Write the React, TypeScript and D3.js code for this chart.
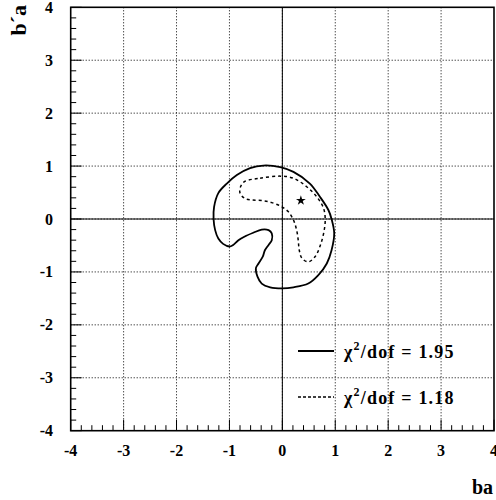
import React from "react";
import * as d3 from "d3";

const xTicks = [-4, -3, -2, -1, 0, 1, 2, 3, 4];
const yTicks = [-4, -3, -2, -1, 0, 1, 2, 3, 4];

const solidX = [-0.36, -0.04, 0.21, 0.52, 0.71, 0.87, 0.93, 0.98, 0.93, 0.84, 0.68, 0.49, 0.21, 0, -0.23, -0.39, -0.47, -0.5, -0.45, -0.37, -0.33, -0.26, -0.2, -0.2, -0.26, -0.39, -0.55, -0.71, -0.83, -0.93, -1.0, -1.12, -1.21, -1.27, -1.3, -1.29, -1.21, -1.05, -0.86, -0.61];
const solidY = [1.01, 0.98, 0.89, 0.67, 0.42, 0.17, 0, -0.27, -0.59, -0.84, -1.06, -1.22, -1.29, -1.31, -1.29, -1.22, -1.09, -0.93, -0.84, -0.71, -0.59, -0.49, -0.4, -0.27, -0.21, -0.2, -0.26, -0.33, -0.4, -0.49, -0.52, -0.47, -0.37, -0.21, 0, 0.23, 0.49, 0.67, 0.83, 0.96];

const dashX = [-0.71, -0.42, -0.04, 0.21, 0.46, 0.65, 0.78, 0.81, 0.78, 0.71, 0.62, 0.49, 0.37, 0.32, 0.3, 0.27, 0.21, 0.11, -0.01, -0.2, -0.39, -0.58, -0.71, -0.8, -0.79];
const dashY = [0.71, 0.77, 0.81, 0.77, 0.61, 0.42, 0.2, -0.02, -0.27, -0.52, -0.71, -0.81, -0.74, -0.59, -0.4, -0.21, -0.02, 0.14, 0.23, 0.31, 0.35, 0.36, 0.39, 0.49, 0.61];

const starX = 0.35;
const starY = 0.35;

const legendLabels = ["1.95", "1.18"];

export default function App() {
  const left = 70.7, right = 494, top = 7.3, bottom = 430.7;
  const x = d3.scaleLinear().domain([-4, 4]).range([left, right]);
  const y = d3.scaleLinear().domain([-4, 4]).range([bottom, top]);
  const font = "'Liberation Serif', 'Times New Roman', 'DejaVu Serif', serif";
  const tstyle: React.CSSProperties = { fontFamily: font, fontWeight: "bold" };

  const line = d3
    .line<[number, number]>()
    .x((d) => x(d[0]))
    .y((d) => y(d[1]))
    .curve(d3.curveCatmullRomClosed.alpha(0.5));

  const solidPts: [number, number][] = solidX.map((v, i) => [v, solidY[i]]);
  const dashPts: [number, number][] = dashX.map((v, i) => [v, dashY[i]]);

  const minor: number[] = [];
  for (let i = -4; i < 4; i++) for (let j = 1; j < 5; j++) minor.push(i + j * 0.2);

  const star = d3.symbol().type(d3.symbolStar).size(30)();

  return (
    <svg
      width={496}
      height={500}
      style={{ position: "fixed", left: 0, top: 0, background: "#fff" }}
    >
      <rect x={0} y={0} width={496} height={500} fill="#fff" />
      {xTicks.slice(1, -1).map((t) => (
        <line key={"gx" + t} x1={x(t)} x2={x(t)} y1={top} y2={bottom} stroke="#000" strokeWidth={1} strokeDasharray="1,2" />
      ))}
      {yTicks.slice(1, -1).map((t) => (
        <line key={"gy" + t} x1={left} x2={right} y1={y(t)} y2={y(t)} stroke="#000" strokeWidth={1} strokeDasharray="1,2" />
      ))}
      <line x1={x(0)} x2={x(0)} y1={top} y2={bottom} stroke="#000" strokeWidth={1} />
      <line x1={left} x2={right} y1={y(0)} y2={y(0)} stroke="#000" strokeWidth={1} />
      {xTicks.map((t) => (
        <line key={"tx" + t} x1={x(t)} x2={x(t)} y1={bottom} y2={bottom - 11} stroke="#000" strokeWidth={1} />
      ))}
      {minor.map((t) => (
        <line key={"mx" + t} x1={x(t)} x2={x(t)} y1={bottom} y2={bottom - 5.5} stroke="#000" strokeWidth={1} />
      ))}
      {yTicks.map((t) => (
        <line key={"ty" + t} x1={left} x2={left + 11} y1={y(t)} y2={y(t)} stroke="#000" strokeWidth={1} />
      ))}
      {minor.map((t) => (
        <line key={"my" + t} x1={left} x2={left + 5.5} y1={y(t)} y2={y(t)} stroke="#000" strokeWidth={1} />
      ))}
      <rect x={left} y={top} width={right - left} height={bottom - top} fill="none" stroke="#000" strokeWidth={1.6} />
      <path d={line(solidPts) || ""} fill="none" stroke="#000" strokeWidth={1.8} />
      <path d={line(dashPts) || ""} fill="none" stroke="#000" strokeWidth={1.5} strokeDasharray="3,3" />
      <path d={star} transform={`translate(${x(starX)},${y(starY)})`} fill="#000" />
      {xTicks.map((t) => (
        <text key={"lx" + t} x={x(t)} y={bottom + 25} style={tstyle} fontSize={16} textAnchor="middle">
          {t}
        </text>
      ))}
      {yTicks.map((t) => (
        <text key={"ly" + t} x={53} y={y(t) + 5.5} style={tstyle} fontSize={16} textAnchor="end">
          {t}
        </text>
      ))}
      <text x={472} y={494} style={tstyle} fontSize={20}>
        ba
      </text>
      <text transform="translate(26,5) rotate(-90)" style={tstyle} fontSize={22} textAnchor="end">
        b´a
      </text>
      {legendLabels.map((lab, i) => (
        <g key={lab} transform={`translate(0,${351 + i * 46})`}>
          <line x1={298} x2={334} y1={0} y2={0} stroke="#000" strokeWidth={i === 0 ? 1.8 : 1.5} strokeDasharray={i === 0 ? undefined : "3,2"} />
          <text x={344} y={7} style={{ ...tstyle, letterSpacing: "1.2px" }} fontSize={18}>
            χ<tspan dy={-8} fontSize={12}>2</tspan>
            <tspan dy={8}>/dof = {lab}</tspan>
          </text>
        </g>
      ))}
    </svg>
  );
}
